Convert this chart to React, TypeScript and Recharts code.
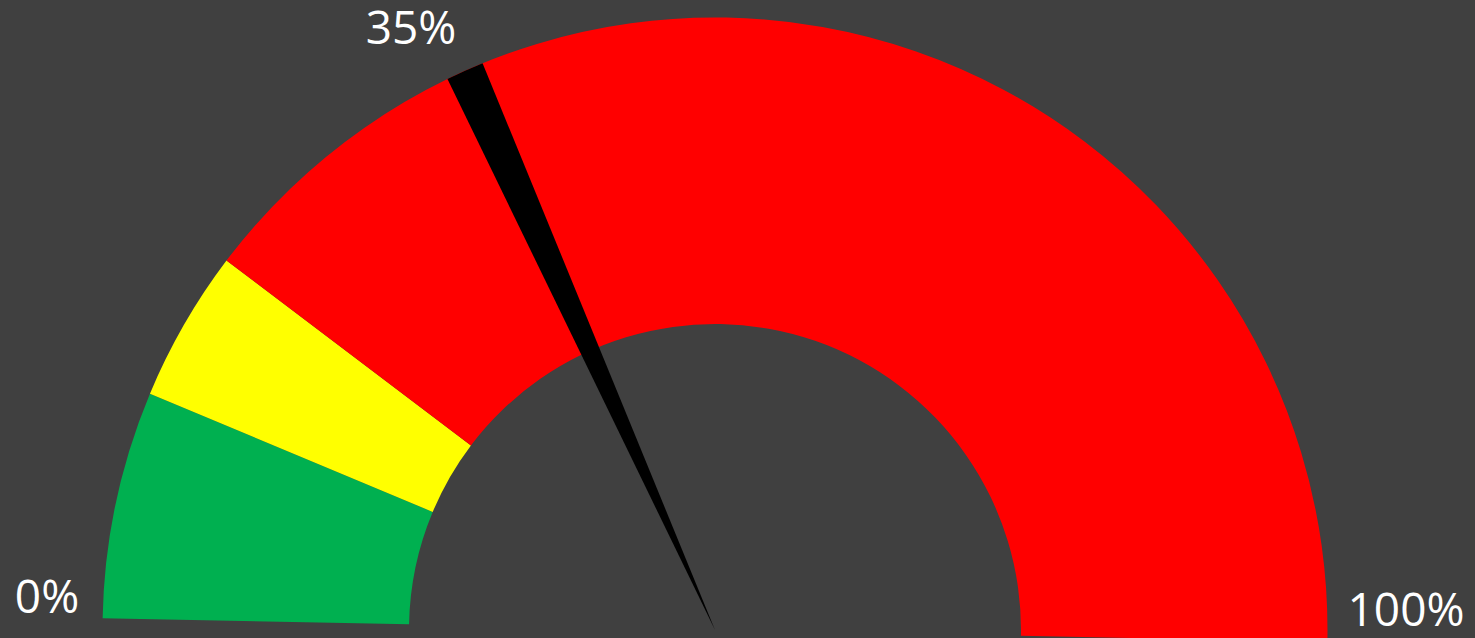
import { PieChart, Pie, Cell, Customized } from 'recharts'

// gauge bands, in percent of the dial
const bandNames = ['Good', 'Warning', 'Bad']
const bandValues = [12, 8, 80]
const bandColors = ['#00B050', '#FFFF00', '#FF0000']

// needle: value, needle width, remainder
const needleValue = 35
const needleWidth = 2
const needleParts = [needleValue, needleWidth, 100 - needleValue - needleWidth]

const dialLabels = ['0%', `${needleValue}%`, '100%']

const W = 1475
const H = 638
const CX = 715
const CY = 630
const OUTER = 612.5
const INNER = 306
const START = 178.9
const END = -1.1

const bands = bandNames.map((name, i) => ({ name, value: bandValues[i] }))
const needle = needleParts.map((value, i) => ({ name: `n${i}`, value }))

function Labels() {
  const style = { fontFamily: '"Open Sans", sans-serif', fontSize: 46, fill: '#FFFFFF' }
  return (
    <g>
      <text x={47} y={613} textAnchor="middle" style={style}>
        {dialLabels[0]}
      </text>
      <text x={411} y={44} textAnchor="middle" style={style}>
        {dialLabels[1]}
      </text>
      <text x={1406} y={626} textAnchor="middle" style={style}>
        {dialLabels[2]}
      </text>
    </g>
  )
}

export default function App() {
  return (
    <div
      style={{
        position: 'fixed',
        left: 0,
        top: 0,
        width: W,
        height: H,
        background: '#404040',
        overflow: 'hidden',
      }}
    >
      <PieChart width={W} height={H} margin={{ top: 0, right: 0, bottom: 0, left: 0 }}>
        <Pie
          data={bands}
          dataKey="value"
          cx={CX}
          cy={CY}
          innerRadius={INNER}
          outerRadius={OUTER}
          startAngle={START}
          endAngle={END}
          stroke="none"
          isAnimationActive={false}
        >
          {bands.map((_, i) => (
            <Cell key={i} fill={bandColors[i]} />
          ))}
        </Pie>
        <Pie
          data={needle}
          dataKey="value"
          cx={CX}
          cy={CY}
          innerRadius={0}
          outerRadius={OUTER}
          startAngle={START}
          endAngle={END}
          stroke="none"
          isAnimationActive={false}
        >
          {needle.map((_, i) => (
            <Cell key={i} fill={i === 1 ? '#000000' : 'transparent'} />
          ))}
        </Pie>
        <Customized component={Labels} />
      </PieChart>
    </div>
  )
}
